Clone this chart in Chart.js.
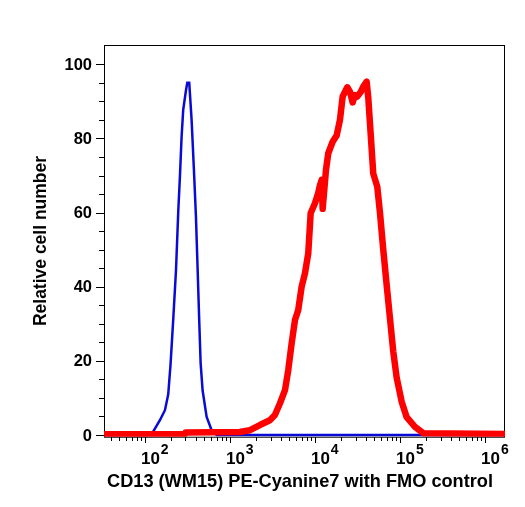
<!DOCTYPE html>
<html>
<head>
<meta charset="utf-8">
<script src="https://cdn.jsdelivr.net/npm/chart.js@4"></script>
<style>
  html, body { margin: 0; padding: 0; background: #fff; }
  #wrap { width: 525px; height: 507px; position: relative; }
</style>
</head>
<body>
<div id="wrap"><canvas id="histo"></canvas></div>
<script>
// FMO control (blue) : intensity / relative count
var fmoX = [33, 108, 125, 150, 172, 188, 200, 215, 232, 247, 258, 270, 282, 304, 315, 332, 354, 377, 398, 417, 435, 452, 477, 532, 609, 698, 1720000];
var fmoY = [0, 0, 0.9, 4, 6.7, 11, 19, 31, 44.5, 60.7, 69.7, 80.5, 87.7, 93, 95, 95, 85, 71.5, 59, 44.5, 31, 19.4, 12, 4.9, 1.3, 0, 0];

// CD13 stained (red)
var cd13X = [33, 296, 300, 1300, 1720, 2250, 2950, 3380, 3870, 4440, 4850, 5320, 5820, 6360, 6970, 7630, 8340, 8900, 10000, 10900, 11450, 11990, 12320, 13480, 14340, 16150, 18000, 19690, 21180, 23990, 25810, 27770, 29550, 31450, 34480, 37000, 40570, 42380, 45600, 48520, 54070, 58170, 63600, 69740, 76270, 83420, 91470, 104700, 119900, 150200, 188000, 1720000];
var cd13Y = [0.2, 0.3, 0.7, 0.8, 1.3, 2.7, 4, 5.4, 8.5, 12.1, 17.5, 24.7, 31, 33.7, 40, 43.6, 49, 59.8, 62.5, 65.2, 67.4, 68.8, 61, 71.5, 76, 79.1, 80.8, 85, 91.3, 93.8, 92.6, 89.7, 91.7, 91.3, 92.5, 94, 95.3, 91, 80, 70.5, 67, 60, 50, 40.5, 31.5, 22.5, 15.5, 9, 4.8, 2.2, 0.5, 0.3];

var yTicks = [0, 20, 40, 60, 80, 100];
var xDecades = [2, 3, 4, 5, 6];
var xTitle = 'CD13 (WM15) PE-Cyanine7 with FMO control';
var yTitle = 'Relative cell number';

function toPts(xs, ys) {
    var out = [];
    for (var i = 0; i < xs.length; i++) out.push({x: xs[i], y: ys[i]});
    return out;
}

// frame + ticks + labels, all placed through the chart scales
var axesPlugin = {
    id: 'axesPlugin',
    beforeDatasetsDraw: function(chart) {
        var ctx = chart.ctx, a = chart.chartArea;
        ctx.save();
        ctx.strokeStyle = '#000';
        ctx.lineWidth = 1;
        ctx.strokeRect(a.left + 0.5, a.top + 0.5, a.right - a.left - 1, a.bottom - a.top);
        ctx.restore();
    },
    afterDraw: function(chart) {
        var ctx = chart.ctx, a = chart.chartArea;
        var xs = chart.scales.x, ys = chart.scales.y;
        ctx.save();
        ctx.strokeStyle = '#000';
        ctx.fillStyle = '#000';
        ctx.lineWidth = 1;

        // y ticks, minor every 5
        for (var v = 0; v <= 100; v += 5) {
            var py = Math.round(ys.getPixelForValue(v)) + 0.5;
            var len = (v % 20 === 0) ? 8 : 5;
            ctx.beginPath();
            ctx.moveTo(a.left - len, py);
            ctx.lineTo(a.left, py);
            ctx.stroke();
        }
        ctx.font = 'bold 16.5px "Liberation Sans", Arial, sans-serif';
        ctx.textAlign = 'right';
        ctx.textBaseline = 'middle';
        yTicks.forEach(function(t) {
            ctx.fillText(String(t), a.left - 12, ys.getPixelForValue(t) + 1);
        });

        // x ticks, log minor
        var ab = Math.round(a.bottom);
        for (var d = 1; d <= 6; d++) {
            for (var m = 1; m <= 9; m++) {
                var val = m * Math.pow(10, d);
                if (val < xs.min || val > xs.max) continue;
                var px = Math.round(xs.getPixelForValue(val)) + 0.5;
                var l = (m === 1) ? 6 : 4;
                ctx.beginPath();
                ctx.moveTo(px, ab);
                ctx.lineTo(px, ab + l);
                ctx.stroke();
            }
        }
        ctx.textAlign = 'left';
        ctx.textBaseline = 'alphabetic';
        xDecades.forEach(function(e) {
            var px = xs.getPixelForValue(Math.pow(10, e));
            ctx.font = 'bold 17px "Liberation Sans", Arial, sans-serif';
            var w = ctx.measureText('10').width;
            ctx.fillText('10', px - 4, 464);
            ctx.font = 'bold 14px "Liberation Sans", Arial, sans-serif';
            ctx.fillText(String(e), px - 4 + w + 1, 454);
        });

        // axis titles
        ctx.font = 'bold 18.2px "Liberation Sans", Arial, sans-serif';
        ctx.textAlign = 'center';
        ctx.fillText(xTitle, 300, 487);
        ctx.font = 'bold 17.5px "Liberation Sans", Arial, sans-serif';
        ctx.translate(46, 241);
        ctx.rotate(-Math.PI / 2);
        ctx.fillText(yTitle, 0, 0);
        ctx.restore();
    }
};

var ctx = document.getElementById('histo');
var myChart = new Chart(ctx, {
    type: 'line',
    data: {
        datasets: [
            {
                label: 'CD13',
                data: toPts(cd13X, cd13Y),
                borderColor: '#ff0000',
                borderWidth: 6.5,
                borderJoinStyle: 'round',
                pointRadius: 0,
                tension: 0,
                fill: false
            },
            {
                label: 'FMO',
                data: toPts(fmoX, fmoY),
                borderColor: '#0a0ad6',
                borderWidth: 2.5,
                pointRadius: 0,
                tension: 0,
                fill: false
            }
        ]
    },
    options: {
        responsive: true,
        maintainAspectRatio: false,
        animation: false,
        layout: { padding: { top: 45, right: 20, left: 0, bottom: 0 } },
        plugins: { legend: { display: false }, tooltip: { enabled: false } },
        scales: {
            x: {
                type: 'logarithmic',
                min: 33,
                max: 1720000,
                ticks: { display: false },
                grid: { display: false },
                border: { display: false },
                afterFit: function(s) { s.height = 70.3; }
            },
            y: {
                type: 'linear',
                min: -0.45,
                max: 105.2,
                ticks: { display: false },
                grid: { display: false },
                border: { display: false },
                afterFit: function(s) { s.width = 104; }
            }
        }
    },
    plugins: [axesPlugin]
});
</script>
</body>
</html>
